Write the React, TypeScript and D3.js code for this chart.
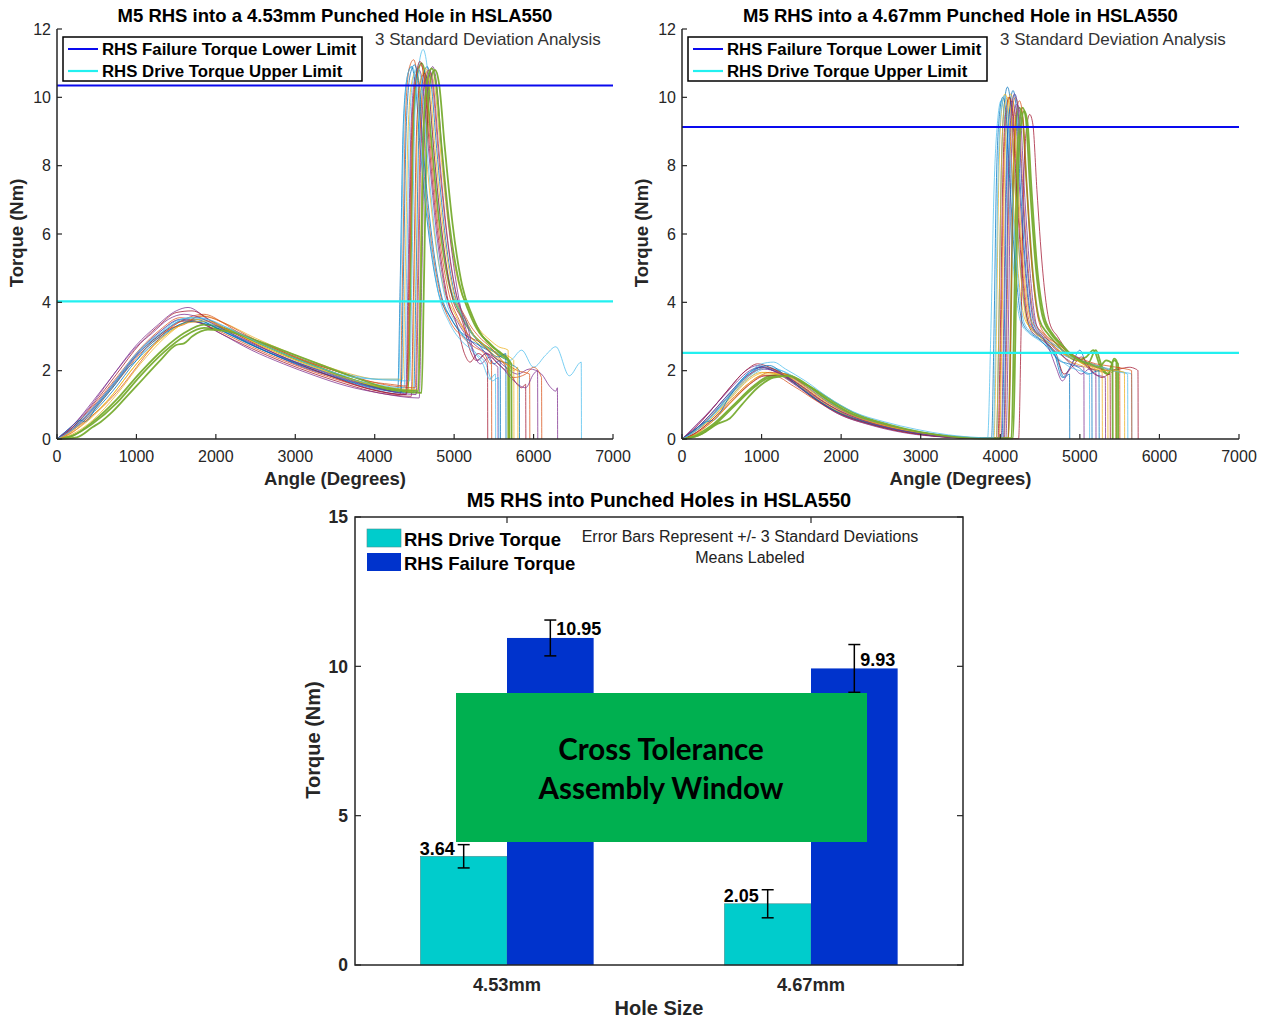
import React from 'react';
import * as d3 from 'd3';

// ---------------- data ----------------
const ANGLE_TICKS = [0, 1000, 2000, 3000, 4000, 5000, 6000, 7000];
const TORQUE_TICKS = [0, 2, 4, 6, 8, 10, 12];
const HOLE_SIZES = ['4.53mm', '4.67mm'];
const DRIVE_MEAN = [3.64, 2.05];
const FAIL_MEAN = [10.95, 9.93];
const DRIVE_SD3 = [0.39, 0.47];
const FAIL_SD3 = [0.6, 0.8];
const BAR_TICKS = [0, 5, 10, 15];
const LINE_COLORS = ['#0072BD', '#D95319', '#EDB120', '#7E2F8E', '#77AC30', '#4DBEEE', '#A2142F'];

type Pt = [number, number];

const CURVES_453: Pt[][] = [
  [[0,0],[150,0.25],[400,0.75],[700,1.55],[1000,2.45],[1300,3.05],[1550,3.45],[1750,3.5],[2000,3.25],[2400,2.8],[2800,2.4],[3200,2.05],[3600,1.75],[4000,1.5],[4290,1.4],[4320,4.5],[4360,9.2],[4410,10.6],[4460,10.9],[4510,10.4],[4570,8.6],[4670,6.2],[4790,4.4],[4940,3.6],[5100,3.1],[5250,2.9],[5400,2.5],[5500,2.2],[5580,2.3],[5583,0]],
  [[0,0],[200,0.35],[450,0.95],[750,1.8],[1050,2.65],[1300,3.2],[1550,3.55],[1750,3.45],[2050,3.15],[2450,2.7],[2850,2.3],[3250,1.95],[3650,1.65],[4050,1.4],[4320,1.3],[4350,4.8],[4390,9.6],[4440,10.9],[4490,11.1],[4540,10.5],[4600,8.4],[4700,6],[4820,4.3],[4960,3.4],[5100,3.0],[5250,2.7],[5380,2.5],[5460,2.2],[5470,2.3],[5473,0]],
  [[0,0],[200,0.15],[450,0.55],[750,1.3],[1050,2.2],[1350,2.95],[1600,3.4],[1850,3.6],[2100,3.4],[2500,2.95],[2900,2.55],[3300,2.2],[3700,1.9],[4050,1.75],[4350,1.75],[4380,4.5],[4420,9.0],[4470,10.5],[4520,10.75],[4570,10.3],[4640,8.5],[4740,6.2],[4860,4.5],[5000,3.7],[5150,3.1],[5300,2.8],[5450,2.6],[5600,2.5],[5750,2.3],[5753,0]],
  [[0,0],[150,0.3],[400,0.9],[700,1.85],[1000,2.75],[1250,3.3],[1500,3.75],[1650,3.85],[1900,3.5],[2300,2.95],[2700,2.5],[3100,2.1],[3500,1.8],[3900,1.5],[4390,1.3],[4420,4.8],[4460,9.3],[4510,10.6],[4560,10.8],[4610,10.3],[4680,8.4],[4780,6.0],[4900,4.2],[5050,3.4],[5200,2.9],[5350,2.6],[5500,2.4],[5650,2.1],[5800,1.9],[5950,2.05],[6100,1.9],[6200,1.55],[6280,1.4],[6300,1.5],[6303,0]],
  [[0,0],[200,0.1],[450,0.45],[750,1.05],[1050,1.85],[1350,2.55],[1600,3.0],[1850,3.25],[2100,3.2],[2500,2.85],[2900,2.45],[3300,2.1],[3700,1.75],[4050,1.5],[4420,1.4],[4450,4.6],[4490,9.4],[4540,10.7],[4590,11.0],[4640,10.6],[4710,8.8],[4810,6.4],[4930,4.6],[5070,3.7],[5220,3.1],[5350,2.8],[5480,2.6],[5600,2.4],[5680,2.3],[5683,0]],
  [[0,0],[150,0.3],[400,0.8],[700,1.6],[1000,2.5],[1300,3.15],[1550,3.5],[1800,3.55],[2050,3.35],[2450,2.95],[2850,2.55],[3250,2.2],[3650,1.9],[4000,1.75],[4440,1.7],[4470,5],[4510,9.8],[4560,11.0],[4610,11.4],[4660,10.9],[4730,8.8],[4830,6.3],[4950,4.5],[5100,3.6],[5250,3.0],[5400,2.7],[5550,2.5],[5700,2.3],[5850,2.6],[6000,2.1],[6150,2.45],[6280,2.7],[6450,1.85],[6600,2.25],[6603,0]],
  [[0,0],[200,0.3],[450,0.85],[750,1.7],[1050,2.55],[1350,3.15],[1600,3.45],[1800,3.4],[2050,3.1],[2450,2.65],[2850,2.25],[3250,1.9],[3650,1.6],[4050,1.35],[4460,1.25],[4490,4.5],[4530,9.2],[4580,10.5],[4630,10.7],[4680,10.2],[4750,8.3],[4850,6.0],[4970,4.2],[5110,3.4],[5200,2.6],[5280,2.3],[5400,2.5],[5550,2.2],[5700,1.9],[5850,1.5],[5900,1.6],[5903,0]],
  [[0,0],[150,0.2],[400,0.65],[700,1.4],[1000,2.3],[1300,2.95],[1550,3.35],[1800,3.45],[2050,3.2],[2450,2.75],[2850,2.35],[3250,2.0],[3650,1.7],[4050,1.45],[4490,1.35],[4520,4.6],[4560,9.3],[4610,10.6],[4660,10.9],[4710,10.4],[4780,8.5],[4880,6.1],[5000,4.3],[5140,3.5],[5290,2.9],[5430,2.6],[5560,2.3],[5700,2.2],[5820,2.0],[5823,0]],
  [[0,0],[200,0.25],[450,0.8],[750,1.65],[1050,2.5],[1350,3.1],[1600,3.5],[1850,3.65],[2100,3.4],[2500,2.9],[2900,2.5],[3300,2.15],[3700,1.85],[4100,1.6],[4510,1.5],[4540,4.7],[4580,9.4],[4630,10.6],[4680,10.8],[4730,10.3],[4800,8.4],[4900,6.1],[5020,4.3],[5160,3.5],[5310,3.0],[5450,2.7],[5600,2.3],[5750,1.8],[5900,1.9],[6000,2.1],[6100,1.8],[6103,0]],
  [[0,0],[150,0.2],[400,0.6],[700,1.3],[1000,2.2],[1300,2.9],[1550,3.35],[1800,3.5],[2050,3.3],[2450,2.85],[2850,2.45],[3250,2.1],[3650,1.8],[4050,1.55],[4540,1.45],[4570,4.6],[4610,9.1],[4660,10.4],[4710,10.7],[4760,10.2],[4830,8.4],[4930,6.2],[5050,4.6],[5180,3.8],[5320,3.2],[5450,2.9],[5560,2.7],[5680,2.6],[5683,0]],
  [[0,0],[200,0.3],[450,0.9],[750,1.75],[1050,2.6],[1300,3.15],[1550,3.5],[1800,3.4],[2050,3.1],[2450,2.6],[2850,2.2],[3250,1.85],[3650,1.55],[4050,1.35],[4560,1.2],[4590,4.4],[4630,9.0],[4680,10.5],[4730,10.9],[4780,10.4],[4850,8.3],[4950,5.9],[5060,4.1],[5150,3.2],[5230,2.6],[5300,2.3],[5400,2.5],[5500,2.2],[5550,2.1],[5553,0]],
  [[0,0],[200,0.1],[450,0.5],[750,1.15],[1050,1.95],[1350,2.65],[1600,3.1],[1850,3.35],[2100,3.25],[2500,2.85],[2900,2.45],[3300,2.1],[3700,1.75],[4100,1.5],[4590,1.35],[4620,4.6],[4660,9.3],[4710,10.6],[4760,10.8],[4810,10.4],[4880,8.6],[4980,6.3],[5100,4.5],[5230,3.6],[5360,3.0],[5480,2.7],[5600,2.5],[5690,2.3],[5693,0]],
  [[0,0],[150,0.25],[400,0.75],[700,1.6],[1000,2.5],[1300,3.1],[1550,3.5],[1750,3.55],[2000,3.3],[2400,2.85],[2800,2.45],[3200,2.1],[3600,1.8],[4000,1.6],[4370,1.5],[4400,4.7],[4440,9.3],[4490,10.6],[4540,10.85],[4590,10.4],[4660,8.4],[4760,6.0],[4880,4.2],[5020,3.4],[5150,2.9],[5280,2.5],[5400,2.2],[5480,1.7],[5560,1.8],[5563,0]],
  [[0,0],[200,0.35],[450,1.0],[750,1.9],[1050,2.8],[1300,3.35],[1500,3.7],[1700,3.75],[1950,3.45],[2350,2.95],[2750,2.5],[3150,2.1],[3550,1.75],[3950,1.45],[4400,1.3],[4430,4.6],[4470,9.3],[4520,10.6],[4570,11.05],[4620,10.6],[4690,8.5],[4790,6.1],[4910,4.2],[5040,3.3],[5130,2.5],[5200,2.25],[5300,2.5],[5400,2.3],[5420,2.2],[5423,0]],
  [[0,0],[150,0.3],[300,0.55],[350,0.5],[500,0.95],[700,1.5],[900,2.1],[1000,2.3],[1100,2.6],[1300,3.0],[1500,3.3],[1700,3.45],[1900,3.35],[2200,3.05],[2600,2.6],[3000,2.25],[3400,1.95],[3800,1.65],[4100,1.45],[4330,1.35],[4360,4.6],[4400,9.3],[4450,10.7],[4500,10.95],[4550,10.5],[4610,8.5],[4710,6.1],[4830,4.3],[4970,3.5],[5120,3.0],[5270,2.8],[5420,2.6],[5560,2.4],[5650,2.5],[5653,0]],
  [[0,0],[200,0.2],[400,0.6],[600,1.0],[800,1.5],[1000,2.1],[1200,2.7],[1400,3.2],[1600,3.35],[1800,3.6],[2000,3.5],[2300,3.1],[2700,2.7],[3100,2.3],[3500,2.0],[3900,1.7],[4200,1.6],[4410,1.55],[4440,4.7],[4480,9.4],[4530,10.7],[4580,10.95],[4630,10.5],[4700,8.6],[4800,6.2],[4920,4.4],[5060,3.5],[5200,3.0],[5350,2.8],[5500,2.4],[5650,2.2],[5800,2.0],[5950,1.9],[5953,0]],
  [[0,0],[150,0.15],[400,0.55],[650,1.15],[900,1.9],[1150,2.6],[1400,3.1],[1650,3.4],[1900,3.45],[2150,3.2],[2550,2.75],[2950,2.35],[3350,2.0],[3750,1.7],[4150,1.5],[4470,1.4],[4500,4.7],[4540,9.3],[4590,10.6],[4640,10.85],[4690,10.4],[4760,8.5],[4860,6.2],[4980,4.4],[5120,3.6],[5260,3.0],[5400,2.7],[5530,2.4],[5660,2.2],[5760,2.0],[5800,2.1],[5803,0]],
  [[0,0],[200,0.4],[450,1.1],[750,2.0],[1000,2.7],[1200,3.1],[1400,3.5],[1600,3.65],[1800,3.55],[2100,3.2],[2500,2.75],[2900,2.35],[3300,2.0],[3700,1.7],[4100,1.45],[4520,1.3],[4550,4.5],[4590,9.2],[4640,10.5],[4690,10.8],[4740,10.3],[4810,8.4],[4910,6.0],[5030,4.2],[5170,3.3],[5250,2.5],[5330,2.2],[5450,2.4],[5600,2.1],[5750,1.7],[5900,1.5],[6000,1.9],[6050,2.0],[6053,0]],
  [[0,0],[250,0.05],[450,0.35],[550,0.5],[700,0.8],[900,1.3],[1100,1.8],[1300,2.3],[1500,2.75],[1600,2.8],[1700,3.0],[1900,3.2],[2150,3.15],[2550,2.85],[2950,2.5],[3350,2.15],[3750,1.8],[4150,1.5],[4550,1.4],[4580,4.6],[4620,9.3],[4670,10.6],[4720,10.85],[4770,10.4],[4840,8.6],[4940,6.3],[5060,4.6],[5190,3.7],[5320,3.1],[5450,2.8],[5580,2.5],[5720,2.2],[5723,0]],
  [[0,0],[150,0.2],[400,0.7],[650,1.4],[900,2.15],[1150,2.8],[1400,3.25],[1650,3.55],[1900,3.5],[2150,3.25],[2550,2.8],[2950,2.4],[3350,2.05],[3750,1.8],[4100,1.75],[4300,1.75],[4330,4.8],[4370,9.4],[4420,10.7],[4470,10.9],[4520,10.5],[4580,8.6],[4680,6.2],[4800,4.3],[4940,3.4],[5080,2.9],[5220,2.6],[5360,2.2],[5450,1.75],[5520,1.9],[5523,0]],
];

const CURVES_467: Pt[][] = [
  [[0,0],[150,0.25],[350,0.7],[600,1.35],[850,1.95],[1000,2.1],[1150,2.05],[1400,1.7],[1700,1.15],[2000,0.75],[2400,0.42],[2800,0.22],[3200,0.09],[3600,0.03],[3950,0.02],[3980,3],[4010,7.6],[4050,9.8],[4090,10.3],[4130,9.8],[4180,7.6],[4250,5.1],[4340,3.5],[4440,3.1],[4560,2.9],[4680,2.5],[4780,1.8],[4900,2.2],[5000,2.6],[5080,2.2],[5150,2.0],[5153,0]],
  [[0,0],[150,0.15],[350,0.5],[600,1.1],[850,1.65],[1000,1.85],[1150,1.85],[1400,1.55],[1700,1.1],[2000,0.7],[2400,0.4],[2800,0.2],[3200,0.08],[3600,0.02],[3980,0.01],[4010,3],[4040,7.5],[4080,9.6],[4120,10.0],[4160,9.6],[4210,7.5],[4280,5.0],[4370,3.4],[4470,3.1],[4600,2.9],[4730,2.6],[4850,2.4],[4980,2.3],[5100,2.1],[5250,2.0],[5350,1.9],[5450,2.0],[5453,0]],
  [[0,0],[150,0.2],[350,0.55],[600,1.15],[850,1.75],[1050,1.95],[1250,1.85],[1500,1.5],[1800,1.0],[2100,0.65],[2500,0.38],[2900,0.18],[3300,0.07],[3700,0.02],[3920,0.02],[3950,3],[3980,7.5],[4020,9.7],[4060,10.1],[4100,9.7],[4150,7.5],[4220,5.0],[4310,3.5],[4410,3.2],[4540,2.9],[4660,2.6],[4780,2.5],[4900,2.4],[5030,2.2],[5150,2.1],[5260,2.0],[5350,2.05],[5353,0]],
  [[0,0],[150,0.3],[350,0.8],[600,1.5],[800,2.0],[950,2.15],[1100,2.05],[1350,1.7],[1650,1.2],[1950,0.75],[2350,0.42],[2750,0.2],[3150,0.08],[3550,0.03],[4010,0.02],[4040,3],[4070,7.5],[4110,9.5],[4150,9.9],[4190,9.5],[4240,7.4],[4310,5.0],[4400,3.3],[4500,3.0],[4620,2.8],[4740,2.5],[4860,2.3],[4960,2.15],[5050,2.1],[5053,0]],
  [[0,0],[200,0.15],[400,0.45],[650,1.0],[900,1.55],[1100,1.85],[1300,1.9],[1550,1.6],[1850,1.1],[2150,0.7],[2550,0.4],[2950,0.2],[3350,0.07],[3750,0.02],[4100,0.02],[4130,3],[4160,7.4],[4200,9.3],[4240,9.7],[4280,9.4],[4330,7.5],[4400,5.1],[4490,3.5],[4590,3.1],[4700,2.8],[4820,2.5],[4950,2.3],[5080,2.4],[5170,2.6],[5260,2.1],[5350,1.9],[5430,2.3],[5480,2.2],[5483,0]],
  [[0,0],[150,0.2],[350,0.6],[600,1.2],[850,1.8],[1050,2.05],[1250,2.0],[1500,1.65],[1800,1.15],[2100,0.75],[2500,0.45],[2900,0.25],[3300,0.1],[3700,0.03],[3840,0.02],[3880,3],[3920,7.2],[3970,9.4],[4010,9.9],[4050,9.5],[4100,7.4],[4170,4.9],[4260,3.4],[4360,3.1],[4480,2.9],[4600,2.7],[4730,2.5],[4860,2.4],[5000,2.3],[5150,2.2],[5300,2.1],[5450,2.0],[5560,1.95],[5650,1.9],[5653,0]],
  [[0,0],[150,0.15],[350,0.5],[600,1.05],[850,1.6],[1050,1.85],[1250,1.85],[1500,1.55],[1800,1.05],[2100,0.7],[2500,0.4],[2900,0.2],[3300,0.08],[3700,0.02],[4230,0.01],[4260,3],[4290,7.2],[4330,9.1],[4370,9.5],[4410,9.2],[4460,7.3],[4530,5.0],[4620,3.4],[4720,3.0],[4840,2.6],[4960,2.4],[5080,2.2],[5200,2.1],[5350,2.0],[5500,2.05],[5620,2.1],[5700,2.05],[5730,2.0],[5733,0]],
  [[0,0],[150,0.25],[350,0.65],[600,1.3],[850,1.9],[1000,2.1],[1150,2.0],[1400,1.65],[1700,1.15],[2000,0.75],[2400,0.43],[2800,0.22],[3200,0.09],[3600,0.03],[4020,0.02],[4050,3],[4080,7.6],[4120,9.7],[4160,10.2],[4200,9.7],[4250,7.5],[4320,5.0],[4410,3.3],[4510,3.0],[4620,2.7],[4720,2.3],[4800,1.8],[4870,1.9],[4873,0]],
  [[0,0],[200,0.3],[400,0.75],[650,1.4],[900,1.95],[1050,2.1],[1200,2.0],[1450,1.65],[1750,1.15],[2050,0.72],[2450,0.42],[2850,0.2],[3250,0.08],[3650,0.02],[4050,0.01],[4080,3],[4110,7.5],[4150,9.6],[4190,10.0],[4230,9.6],[4280,7.5],[4350,5.0],[4440,3.4],[4540,3.1],[4660,2.8],[4780,2.6],[4900,2.45],[5020,2.3],[5150,2.2],[5280,2.1],[5400,2.0],[5500,2.1],[5503,0]],
  [[0,0],[150,0.2],[350,0.55],[600,1.2],[850,1.8],[1000,1.95],[1200,1.9],[1450,1.6],[1750,1.1],[2050,0.7],[2450,0.4],[2850,0.2],[3250,0.08],[3650,0.02],[3990,0.01],[4020,3],[4050,7.4],[4090,9.6],[4130,10.1],[4170,9.7],[4220,7.6],[4290,5.1],[4380,3.5],[4480,3.2],[4600,2.9],[4720,2.6],[4840,2.3],[4960,2.2],[5080,2.1],[5200,2.0],[5280,1.95],[5283,0]],
  [[0,0],[150,0.25],[350,0.7],[600,1.35],[850,1.9],[1000,2.05],[1150,2.0],[1400,1.65],[1700,1.15],[2000,0.72],[2400,0.42],[2800,0.22],[3200,0.08],[3600,0.03],[4070,0.02],[4100,3],[4130,7.5],[4170,9.5],[4210,9.8],[4250,9.5],[4300,7.4],[4370,5.0],[4460,3.3],[4560,3.0],[4680,2.7],[4800,2.4],[4920,2.1],[5020,1.9],[5120,2.05],[5200,2.0],[5203,0]],
  [[0,0],[200,0.1],[400,0.4],[650,0.95],[900,1.5],[1100,1.8],[1300,1.85],[1550,1.6],[1850,1.12],[2150,0.72],[2550,0.42],[2950,0.2],[3350,0.08],[3750,0.02],[4140,0.02],[4170,3],[4200,7.3],[4240,9.3],[4280,9.7],[4320,9.4],[4370,7.5],[4440,5.2],[4530,3.6],[4630,3.1],[4740,2.8],[4860,2.5],[4980,2.3],[5100,2.2],[5200,2.6],[5280,2.1],[5360,1.9],[5430,2.35],[5460,2.3],[5463,0]],
  [[0,0],[150,0.2],[350,0.6],[600,1.25],[850,1.85],[1050,2.1],[1200,2.05],[1450,1.7],[1750,1.2],[2050,0.78],[2450,0.46],[2850,0.25],[3250,0.1],[3650,0.03],[4040,0.02],[4070,3],[4100,7.5],[4140,9.6],[4180,10.1],[4220,9.7],[4270,7.5],[4340,5.0],[4430,3.4],[4530,3.0],[4650,2.8],[4770,2.6],[4890,2.4],[5010,2.3],[5140,2.2],[5270,2.1],[5400,2.0],[5520,1.95],[5600,1.9],[5603,0]],
  [[0,0],[150,0.3],[350,0.8],[600,1.5],[800,2.0],[950,2.2],[1100,2.1],[1350,1.75],[1650,1.2],[1950,0.78],[2350,0.45],[2750,0.22],[3150,0.09],[3550,0.03],[3970,0.02],[4000,3],[4030,7.5],[4070,9.6],[4110,10.0],[4150,9.6],[4200,7.5],[4270,5.0],[4360,3.3],[4460,3.0],[4580,2.8],[4700,2.5],[4800,1.9],[4900,2.1],[5020,2.4],[5150,2.0],[5280,1.8],[5380,1.9],[5383,0]],
  [[0,0],[150,0.25],[300,0.5],[400,0.55],[600,1.25],[800,1.85],[950,2.1],[1100,2.15],[1300,1.85],[1600,1.3],[1900,0.85],[2300,0.5],[2700,0.27],[3100,0.12],[3500,0.04],[3890,0.02],[3920,3],[3950,7.4],[3990,9.5],[4030,10.0],[4070,9.6],[4120,7.5],[4190,5.0],[4280,3.4],[4380,3.1],[4500,2.9],[4620,2.6],[4740,2.3],[4860,2.2],[4980,2.1],[5100,1.9],[5240,2.0],[5243,0]],
  [[0,0],[200,0.2],[400,0.55],[650,1.15],[900,1.7],[1100,1.95],[1300,1.9],[1550,1.55],[1850,1.05],[2150,0.68],[2550,0.4],[2950,0.2],[3350,0.07],[3750,0.02],[4100,0.02],[4130,3],[4160,7.5],[4200,9.5],[4240,9.9],[4280,9.5],[4330,7.5],[4400,5.0],[4490,3.4],[4590,3.0],[4710,2.8],[4830,2.6],[4950,2.4],[5070,2.3],[5200,2.2],[5330,2.15],[5460,2.1],[5580,2.05],[5650,2.0],[5653,0]],
  [[0,0],[150,0.1],[350,0.45],[600,1.05],[850,1.65],[1050,1.9],[1250,1.9],[1500,1.6],[1800,1.1],[2100,0.72],[2500,0.42],[2900,0.22],[3300,0.09],[3700,0.02],[3950,0.02],[3980,3],[4010,7.5],[4050,9.7],[4090,10.0],[4130,9.6],[4180,7.5],[4250,5.0],[4340,3.4],[4440,3.1],[4560,2.9],[4680,2.7],[4800,2.5],[4920,2.35],[5050,2.2],[5180,2.1],[5310,2.0],[5440,2.0],[5560,1.95],[5563,0]],
  [[0,0],[150,0.35],[300,0.7],[500,1.2],[700,1.7],[850,2.0],[1000,2.1],[1150,2.0],[1400,1.7],[1700,1.2],[2000,0.8],[2400,0.45],[2800,0.23],[3200,0.09],[3600,0.03],[4040,0.02],[4070,3],[4100,7.5],[4140,9.6],[4180,10.1],[4220,9.7],[4270,7.5],[4340,5.0],[4430,3.3],[4530,3.0],[4620,2.6],[4700,2.1],[4780,1.7],[4860,2.0],[4960,2.4],[5060,2.2],[5180,1.9],[5320,1.8],[5323,0]],
  [[0,0],[250,0.15],[450,0.45],[600,0.6],[750,1.0],[950,1.5],[1150,1.8],[1350,1.85],[1600,1.55],[1900,1.1],[2200,0.72],[2600,0.42],[3000,0.2],[3400,0.07],[3800,0.02],[4160,0.02],[4190,3],[4220,7.3],[4260,9.2],[4300,9.6],[4340,9.3],[4390,7.4],[4460,5.1],[4550,3.6],[4650,3.1],[4760,2.8],[4880,2.5],[5000,2.3],[5120,2.2],[5240,2.1],[5330,2.3],[5410,2.2],[5413,0]],
  [[0,0],[150,0.2],[350,0.6],[600,1.3],[850,1.95],[1000,2.2],[1150,2.25],[1300,2.05],[1550,1.7],[1850,1.2],[2150,0.8],[2550,0.5],[2950,0.28],[3350,0.12],[3750,0.04],[3910,0.03],[3940,3],[3970,7.5],[4010,9.6],[4050,10.05],[4090,9.6],[4140,7.5],[4210,5.0],[4300,3.4],[4400,3.1],[4520,2.9],[4640,2.6],[4760,2.3],[4880,2.1],[5000,2.0],[5120,1.9],[5123,0]],
];

// --------------- constants ---------------
const FONT = '"Liberation Sans", Arial, Helvetica, sans-serif';
const AX = '#262626';

interface LineChartProps {
  x0: number; x1: number; title: string; curves: Pt[][]; failLimit: number; driveLimit: number;
}

function LineChart({ x0, x1, title, curves, failLimit, driveLimit }: LineChartProps) {
  const x = d3.scaleLinear().domain([0, 7000]).range([x0, x1]);
  const y = d3.scaleLinear().domain([0, 12]).range([439, 29]);
  const line = d3.line<Pt>().x(d => x(d[0])).y(d => y(d[1])).curve(d3.curveMonotoneX);
  const cx = (x0 + x1) / 2;
  return (
    <g>
      <text x={cx} y={22} textAnchor="middle" fontFamily={FONT} fontWeight="bold" fontSize={18.5} fill="#000">{title}</text>
      {curves.map((c, i) => {
        const color = LINE_COLORS[i % LINE_COLORS.length];
        const thick = i % LINE_COLORS.length === 4;
        return <path key={i} d={line(c) || ''} fill="none" stroke={color} strokeWidth={thick ? 1.8 : 0.8} strokeOpacity={0.95} />;
      })}
      <line x1={x(0)} x2={x(7000)} y1={y(failLimit)} y2={y(failLimit)} stroke="#0a0aee" strokeWidth={2} />
      <line x1={x(0)} x2={x(7000)} y1={y(driveLimit)} y2={y(driveLimit)} stroke="#22f0f0" strokeWidth={2.2} />
      {/* axes */}
      <line x1={x0} x2={x0} y1={y(12)} y2={y(0)} stroke={AX} strokeWidth={1.5} />
      <line x1={x0} x2={x1} y1={y(0)} y2={y(0)} stroke={AX} strokeWidth={1.5} />
      {TORQUE_TICKS.map(t => (
        <g key={t}>
          <line x1={x0} x2={x0 + 5} y1={y(t)} y2={y(t)} stroke={AX} strokeWidth={1.2} />
          <text x={x0 - 6} y={y(t) + 5.7} textAnchor="end" fontFamily={FONT} fontSize={16} fill={AX}>{t}</text>
        </g>
      ))}
      {ANGLE_TICKS.map(t => (
        <g key={t}>
          <line x1={x(t)} x2={x(t)} y1={y(0)} y2={y(0) - 5} stroke={AX} strokeWidth={1.2} />
          <text x={x(t)} y={462} textAnchor="middle" fontFamily={FONT} fontSize={16} fill={AX}>{t}</text>
        </g>
      ))}
      <text x={cx} y={484.5} textAnchor="middle" fontFamily={FONT} fontWeight="bold" fontSize={18.5} fill={AX}>Angle (Degrees)</text>
      <text transform={`translate(${x0 - 34},${233}) rotate(-90)`} textAnchor="middle" fontFamily={FONT} fontWeight="bold" fontSize={18.5} fill={AX}>Torque (Nm)</text>
      {/* legend */}
      <rect x={x0 + 6} y={37} width={299} height={44} fill="#fff" stroke="#000" strokeWidth={1.5} />
      <line x1={x0 + 11} x2={x0 + 41} y1={49} y2={49} stroke="#0a0aee" strokeWidth={2} />
      <line x1={x0 + 11} x2={x0 + 41} y1={71} y2={71} stroke="#22f0f0" strokeWidth={2.2} />
      <text x={x0 + 45} y={55} fontFamily={FONT} fontWeight="bold" fontSize={16.8} fill="#000">RHS Failure Torque Lower Limit</text>
      <text x={x0 + 45} y={77} fontFamily={FONT} fontWeight="bold" fontSize={16.8} fill="#000">RHS Drive Torque Upper Limit</text>
      <text x={x0 + 318} y={45} fontFamily={FONT} fontSize={17} fill="#333">3 Standard Deviation Analysis</text>
    </g>
  );
}

function BarChart() {
  const bx0 = 355, bx1 = 963, by0 = 965, by1 = 517;
  const x = d3.scaleLinear().domain([0.5, 2.5]).range([bx0, bx1]);
  const y = d3.scaleLinear().domain([0, 15]).range([by0, by1]);
  const bw = 0.285;
  const CYAN = '#00cccc';
  const BLUE = '#0033cc';
  const errBar = (cx: number, m: number, e: number, k: string) => (
    <g key={k} stroke="#000" strokeWidth={1.5}>
      <line x1={cx} x2={cx} y1={y(m + e)} y2={y(m - e)} />
      <line x1={cx - 6} x2={cx + 6} y1={y(m + e)} y2={y(m + e)} />
      <line x1={cx - 6} x2={cx + 6} y1={y(m - e)} y2={y(m - e)} />
    </g>
  );
  return (
    <g>
      <text x={659} y={507} textAnchor="middle" fontFamily={FONT} fontWeight="bold" fontSize={20} fill="#000">M5 RHS into Punched Holes in HSLA550</text>
      {HOLE_SIZES.map((h, i) => {
        const g = i + 1;
        return (
          <g key={h}>
            <rect x={x(g - bw)} y={y(DRIVE_MEAN[i])} width={x(g) - x(g - bw)} height={y(0) - y(DRIVE_MEAN[i])} fill={CYAN} stroke="#4a9090" strokeWidth={0.6} />
            <rect x={x(g)} y={y(FAIL_MEAN[i])} width={x(g + bw) - x(g)} height={y(0) - y(FAIL_MEAN[i])} fill={BLUE} />
          </g>
        );
      })}
      {HOLE_SIZES.map((h, i) => {
        const g = i + 1;
        const cd = x(g - bw / 2);
        const cf = x(g + bw / 2);
        return (
          <g key={'e' + h}>
            {errBar(cd, DRIVE_MEAN[i], DRIVE_SD3[i], 'd')}
            {errBar(cf, FAIL_MEAN[i], FAIL_SD3[i], 'f')}
            <text x={cd - 9} y={y(DRIVE_MEAN[i]) - 1.6} textAnchor="end" fontFamily={FONT} fontWeight="bold" fontSize={18} fill="#000">{DRIVE_MEAN[i].toFixed(2)}</text>
            <text x={cf + 6} y={y(FAIL_MEAN[i]) - 2.6} fontFamily={FONT} fontWeight="bold" fontSize={18} fill="#000">{FAIL_MEAN[i].toFixed(2)}</text>
          </g>
        );
      })}
      {/* green window */}
      <rect x={456} y={693} width={411} height={149} fill="#00b050" />
      <text x={661} y={759.5} textAnchor="middle" fontFamily="Lato, 'Open Sans', sans-serif" fontWeight="bold" fontSize={29.5} fill="#000">Cross Tolerance</text>
      <text x={661} y={798.5} textAnchor="middle" fontFamily="Lato, 'Open Sans', sans-serif" fontWeight="bold" fontSize={29.5} fill="#000">Assembly Window</text>
      {/* box */}
      <rect x={bx0} y={by1} width={bx1 - bx0} height={by0 - by1} fill="none" stroke={AX} strokeWidth={1.5} />
      {BAR_TICKS.map(t => (
        <g key={t}>
          <line x1={bx0} x2={bx0 + 6} y1={y(t)} y2={y(t)} stroke={AX} strokeWidth={1.2} />
          <line x1={bx1} x2={bx1 - 6} y1={y(t)} y2={y(t)} stroke={AX} strokeWidth={1.2} />
          <text x={bx0 - 7} y={y(t) + 6.3} textAnchor="end" fontFamily={FONT} fontWeight="bold" fontSize={17.5} fill={AX}>{t}</text>
        </g>
      ))}
      {HOLE_SIZES.map((h, i) => (
        <g key={'t' + h}>
          <line x1={x(i + 1)} x2={x(i + 1)} y1={by1} y2={by1 + 6} stroke={AX} strokeWidth={1.2} />
          <text x={x(i + 1)} y={990.5} textAnchor="middle" fontFamily={FONT} fontWeight="bold" fontSize={18.3} fill={AX}>{h}</text>
        </g>
      ))}
      <text x={659} y={1015} textAnchor="middle" fontFamily={FONT} fontWeight="bold" fontSize={20} fill={AX}>Hole Size</text>
      <text transform={`translate(320,740) rotate(-90)`} textAnchor="middle" fontFamily={FONT} fontWeight="bold" fontSize={20} fill={AX}>Torque (Nm)</text>
      {/* legend */}
      <rect x={367} y={529} width={34} height={18} fill={CYAN} stroke="#4a9090" strokeWidth={0.6} />
      <rect x={367} y={553} width={34} height={18} fill={BLUE} />
      <text x={404} y={545.5} fontFamily={FONT} fontWeight="bold" fontSize={18.5} fill="#000">RHS Drive Torque</text>
      <text x={404} y={569.5} fontFamily={FONT} fontWeight="bold" fontSize={18.5} fill="#000">RHS Failure Torque</text>
      <text x={750} y={541.5} textAnchor="middle" fontFamily={FONT} fontSize={16} fill="#222">Error Bars Represent +/- 3 Standard Deviations</text>
      <text x={750} y={562.5} textAnchor="middle" fontFamily={FONT} fontSize={16} fill="#222">Means Labeled</text>
    </g>
  );
}

export default function App() {
  return (
    <svg width={1266} height={1018} style={{ position: 'absolute', left: 0, top: 0, background: '#fff' }}>
      <rect x={0} y={0} width={1266} height={1018} fill="#fff" />
      <LineChart x0={57} x1={613} title="M5 RHS into a 4.53mm Punched Hole in HSLA550" curves={CURVES_453}
        failLimit={FAIL_MEAN[0] - FAIL_SD3[0]} driveLimit={DRIVE_MEAN[0] + DRIVE_SD3[0]} />
      <LineChart x0={682} x1={1239} title="M5 RHS into a 4.67mm Punched Hole in HSLA550" curves={CURVES_467}
        failLimit={FAIL_MEAN[1] - FAIL_SD3[1]} driveLimit={DRIVE_MEAN[1] + DRIVE_SD3[1]} />
      <BarChart />
    </svg>
  );
}
